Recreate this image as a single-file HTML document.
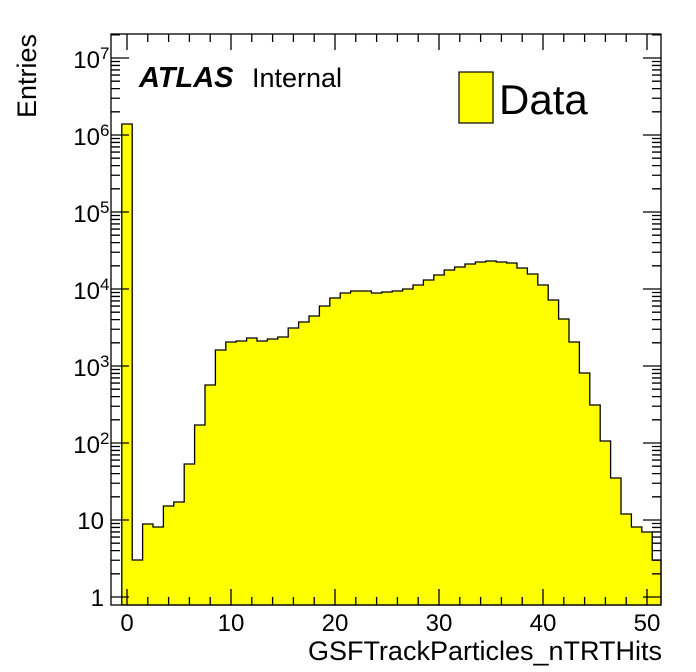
<!DOCTYPE html>
<html><head><meta charset="utf-8"><style>
body{margin:0;background:#fff;}
svg{display:block;font-family:"Liberation Sans",sans-serif;}
</style></head><body>
<svg id="s" width="696" height="672" viewBox="0 0 696 672" xmlns="http://www.w3.org/2000/svg">
<rect width="696" height="672" fill="#fff"/>
<path id="h" fill="#ffff00" stroke="#000" stroke-width="1.3"/>
<g id="ax" stroke="#000" stroke-width="1.3" fill="none"></g>
<rect x="111" y="34" width="550" height="571" fill="none" stroke="#000" stroke-width="1.3"/>
<g id="lab" font-size="24" fill="#000"></g>
<text x="139" y="87" font-size="29" font-weight="bold" font-style="italic">ATLAS</text>
<text x="252" y="87" font-size="27">Internal</text>
<rect x="459" y="72" width="34" height="51" fill="#ffff00" stroke="#000" stroke-width="1.2"/>
<text x="499" y="114" font-size="42">Data</text>
<text x="662" y="660" font-size="27" text-anchor="end">GSFTrackParticles_nTRTHits</text>
<text transform="translate(36,118) rotate(-90)" font-size="27">Entries</text>
</svg>
<script>
var tops=[124,560,524,527,506,502,464,425,385,350,342,341,338,341,339,337,328,322,316,306,298,293,291,291,293,292,291,289,285,280,275,270,267,264,262,261,262,263,268,274,285,300,319,342,373,405,441,478,514,527,532,560];
function X(v){return 127+v*10.4;}
var base=605,d="M"+X(-0.5)+","+base;
for(var i=0;i<tops.length;i++){var x0=X(i-0.5),x1=Math.min(X(i+0.5),661);d+=" L"+x0+","+tops[i]+" L"+x1+","+tops[i];}
d+=" L661,"+base+" Z";
document.getElementById('h').setAttribute('d',d);
var ax=document.getElementById('ax'),lab=document.getElementById('lab'),s="";
function Y(e){return 597-e*77;}
for(var v=0;v<=50;v+=2){var x=X(v),L=(v%10==0)?16:8;s+="M"+x+",605v-"+L+"M"+x+",34v"+L;}
for(var e=0;e<=7;e++){for(var m=1;m<10;m++){var y=Y(e+Math.log10(m));if(y<34)break;var L=m==1?18:9;s+="M111,"+y+"h"+L+"M661,"+y+"h-"+L;}}
var p=document.createElementNS("http://www.w3.org/2000/svg","path");p.setAttribute('d',s);ax.appendChild(p);
var t="";
for(var v=0;v<=50;v+=10)t+='<text x="'+X(v)+'" y="631" text-anchor="middle">'+v+'</text>';
t+='<text x="104" y="'+(Y(0)+9)+'" text-anchor="end">1</text>';
t+='<text x="104" y="'+(Y(1)+9)+'" text-anchor="end">10</text>';
for(var e=2;e<=7;e++)t+='<text x="100" y="'+(Y(e)+10)+'" text-anchor="end">10</text><text x="100" y="'+(Y(e)+1)+'" font-size="17">'+e+'</text>';
lab.innerHTML=t;
</script>
</body></html>
